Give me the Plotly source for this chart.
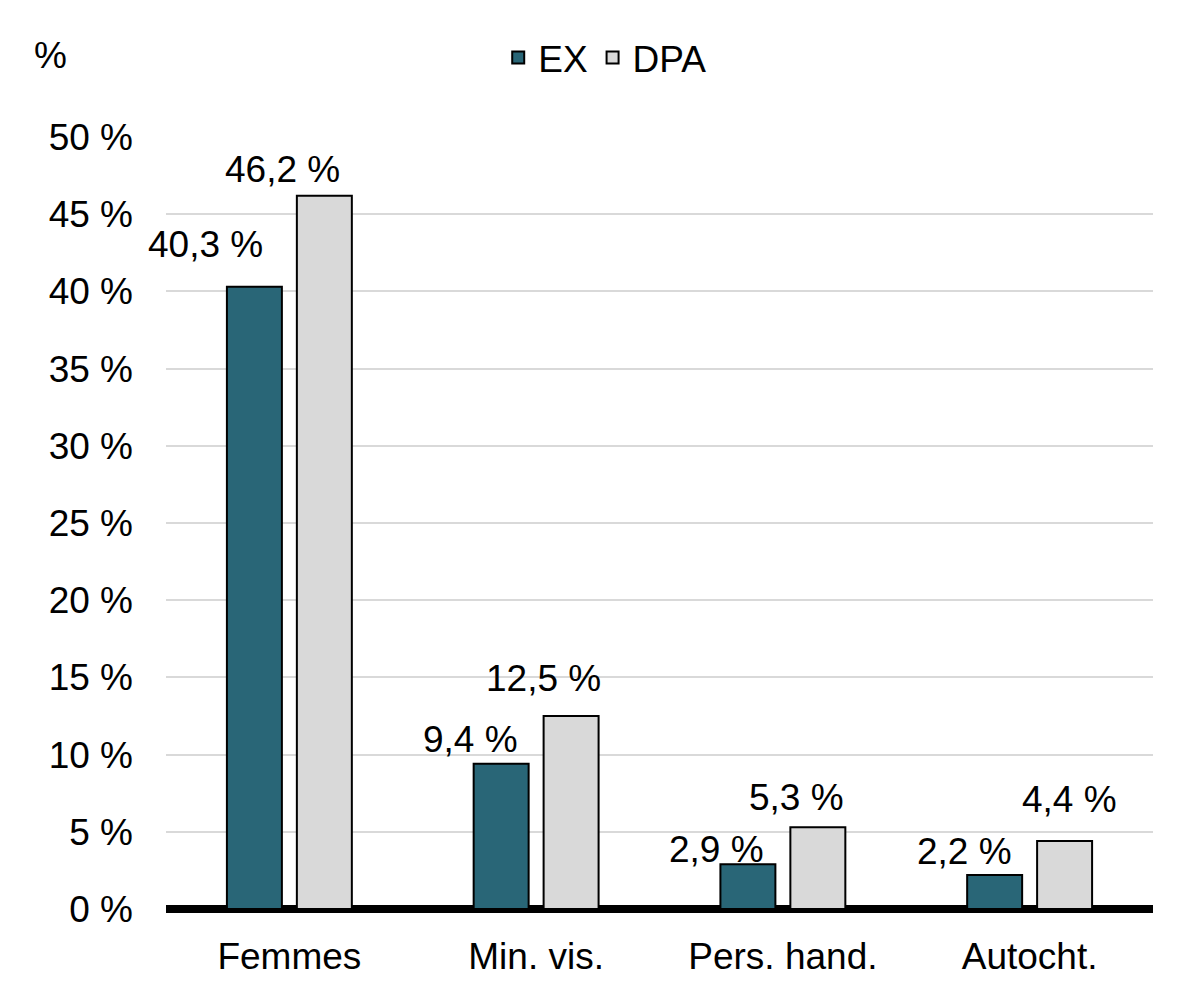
import plotly.graph_objects as go

categories = ["Femmes", "Min. vis.", "Pers. hand.", "Autocht."]
ex_values = [40.3, 9.4, 2.9, 2.2]
dpa_values = [46.2, 12.5, 5.3, 4.4]
y_ticks = [0, 5, 10, 15, 20, 25, 30, 35, 40, 45, 50]
y_tick_labels = [f"{v} %" for v in y_ticks]

# label placement offsets (pixels, relative to category centre / bar top)
ex_label_dx = [-84, -66, -66, -65]
ex_label_dy = [42, 24, 15, 24]
dpa_label_dx = [-7, 7, 14, 40]
dpa_label_dy = [26, 38, 30, 42]

FONT = "Liberation Sans, Arial, sans-serif"
FS = 37

def fmt(v):
    return f"{v:.1f}".replace(".", ",") + " %"

fig = go.Figure()
fig.add_trace(go.Bar(x=categories, y=ex_values, name="EX",
                     marker=dict(color="#296677", line=dict(color="black", width=2))))
fig.add_trace(go.Bar(x=categories, y=dpa_values, name="DPA",
                     marker=dict(color="#d9d9d9", line=dict(color="black", width=2))))

ann = []
for c, v, dx, dy in zip(categories, ex_values, ex_label_dx, ex_label_dy):
    ann.append(dict(x=c, y=v, xref="x", yref="y", text=fmt(v), showarrow=False,
                    xshift=dx, yshift=dy, font=dict(size=FS, color="black", family=FONT)))
for c, v, dx, dy in zip(categories, dpa_values, dpa_label_dx, dpa_label_dy):
    ann.append(dict(x=c, y=v, xref="x", yref="y", text=fmt(v), showarrow=False,
                    xshift=dx, yshift=dy, font=dict(size=FS, color="black", family=FONT)))
ann.append(dict(x=(50 - 166) / 987, y=(909 - 55) / 772, xref="paper", yref="paper",
                xanchor="center", yanchor="middle",
                text="%", showarrow=False,
                font=dict(size=FS, color="black", family=FONT)))

fig.update_layout(
    width=1200, height=1000,
    margin=dict(l=158, r=55, t=129, b=99),
    plot_bgcolor="white", paper_bgcolor="white",
    font=dict(family=FONT, size=FS, color="black"),
    barmode="group", bargap=0.433, bargroupgap=0.214,
    showlegend=True,
    legend=dict(orientation="h", x=0.445, xanchor="center", yref="container",
                y=0.95, yanchor="middle", font=dict(size=FS, family=FONT),
                itemwidth=30, tracegroupgap=0, bgcolor="rgba(0,0,0,0)"),
    annotations=ann,
    xaxis=dict(range=[-0.5, 3.5], autorange=False, showgrid=False, ticks="",
               showline=False, ticklabelstandoff=22,
               tickfont=dict(size=FS, family=FONT)),
    yaxis=dict(range=[0, 50], autorange=False, tickvals=y_ticks, ticktext=y_tick_labels,
               showgrid=True, gridcolor="#d9d9d9", gridwidth=2,
               zeroline=True, zerolinecolor="black", zerolinewidth=8,
               showline=False, ticks="", ticklabelstandoff=32,
               tickfont=dict(size=FS, family=FONT)),
)

fig.write_html("out.html")
